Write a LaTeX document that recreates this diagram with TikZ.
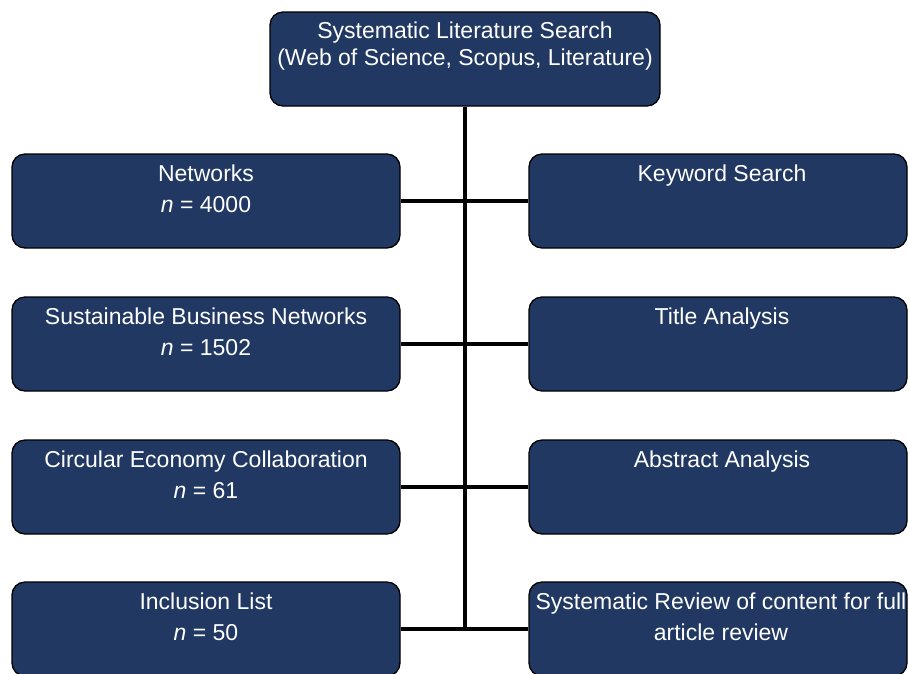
\documentclass[tikz,border=0pt]{standalone}
\usepackage{fontspec}
\setmainfont{Liberation Sans}
\usetikzlibrary{backgrounds}
\definecolor{navy}{RGB}{33,56,99}
\tikzset{
  stage/.style={draw=black, line width=1.3pt, fill=navy, rounded corners=13pt,
    inner sep=0pt, minimum height=94pt},
  headstage/.style={stage, minimum width=390pt},
  leftstage/.style={stage, minimum width=388pt},
  rightstage/.style={stage, minimum width=378pt},
  caption/.style={text=white, align=center, anchor=north, inner sep=0pt,
    font=\fontsize{23}{31}\selectfont},
  headcaption/.style={caption, font=\fontsize{23}{27}\selectfont},
  link/.style={line width=4.5pt},
}
\begin{document}
\begin{tikzpicture}[x=1pt,y=-1pt]
\useasboundingbox (0,0) rectangle (909,673);
\clip (0,0) rectangle (909,673);

% search source at the top
\node[headstage] (search) at (465,59) {};
\node[headcaption] (searchtxt) at ([yshift=-8pt]search.north)
  {\strut Systematic Literature Search\\(Web of Science, Scopus, Literature)};

% left column: results per stage
\node[leftstage] (l1) at (206,201) {};
\node[leftstage] (l2) at (206,344) {};
\node[leftstage] (l3) at (206,487) {};
\node[leftstage] (l4) at (206,629) {};
\node[caption] (l1txt) at ([yshift=-6pt]l1.north) {\strut Networks\\\textit{n} = 4000};
\node[caption] (l2txt) at ([yshift=-6pt]l2.north) {\strut Sustainable Business Networks\\\textit{n} = 1502};
\node[caption] (l3txt) at ([yshift=-6pt]l3.north) {\strut Circular Economy Collaboration\\\textit{n} = 61};
\node[caption] (l4txt) at ([yshift=-6pt]l4.north) {\strut Inclusion List\\\textit{n} = 50};

% right column: screening steps
\node[rightstage] (r1) at (718,201) {};
\node[rightstage] (r2) at (718,344) {};
\node[rightstage] (r3) at (718,487) {};
\node[rightstage] (r4) at (718,629) {};
\node[caption] (r1txt) at ([xshift=4pt,yshift=-6pt]r1.north) {\strut Keyword Search};
\node[caption] (r2txt) at ([xshift=4pt,yshift=-6pt]r2.north) {\strut Title Analysis};
\node[caption] (r3txt) at ([xshift=4pt,yshift=-6pt]r3.north) {\strut Abstract Analysis};
\node[caption] (r4txt) at ([xshift=3pt,yshift=-6pt]r4.north)
  {\strut Systematic Review of content for full\\article review};

% connectors behind the boxes
\begin{scope}[on background layer]
  \coordinate (trunkend) at (search.south |- l4.east);
  \draw[link] (search.south) -- (trunkend);
  \draw[link] (l1.east) -- (r1.west);
  \draw[link] (l2.east) -- (r2.west);
  \draw[link] (l3.east) -- (r3.west);
  \draw[link] (l4.east) -- (r4.west);
\end{scope}
\end{tikzpicture}
\end{document}
